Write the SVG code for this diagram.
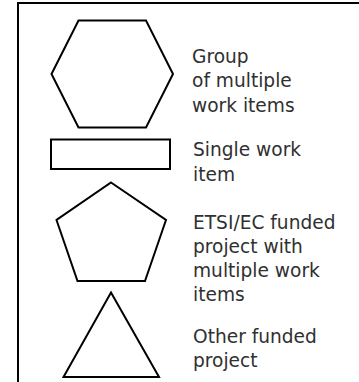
<svg xmlns="http://www.w3.org/2000/svg" width="359" height="382" viewBox="0 0 359 382">
<style>
.shape{fill:#fff;stroke:#000;stroke-width:2;stroke-linejoin:miter}
.lbl{font-family:"DejaVu Sans","Open Sans","Liberation Sans",sans-serif;font-size:18.6px;fill:#303030}
</style>
<rect x="0" y="0" width="359" height="382" fill="#fff"/>
<path d="M18,382 V3 H359" fill="none" stroke="#000" stroke-width="2"/>
<g id="group-multiple">
<polygon class="shape" points="78.5,20.5 146,20.5 173,74 146,127.5 78.5,127.5 51.5,74"/>
<text class="lbl"><tspan x="192" y="62.7">Group</tspan><tspan x="192" y="87">of multiple</tspan><tspan x="192" y="111.5">work items</tspan></text>
</g>
<g id="single-item">
<rect class="shape" x="51" y="139.5" width="119" height="29.5"/>
<text class="lbl"><tspan x="193" y="156">Single work</tspan><tspan x="193" y="180.5">item</tspan></text>
</g>
<g id="etsi-project">
<polygon class="shape" points="111,182.5 166,220 145,281 77.5,281 56.5,220"/>
<text class="lbl"><tspan x="193" y="228.5">ETSI/EC funded</tspan><tspan x="193" y="253">project with</tspan><tspan x="193" y="277">multiple work</tspan><tspan x="193" y="301">items</tspan></text>
</g>
<g id="other-project">
<polygon class="shape" points="111,292.5 159,377 63.5,377"/>
<text class="lbl"><tspan x="193" y="343">Other funded</tspan><tspan x="193" y="367">project</tspan></text>
</g>
<g id="connectors"></g>
</svg>
